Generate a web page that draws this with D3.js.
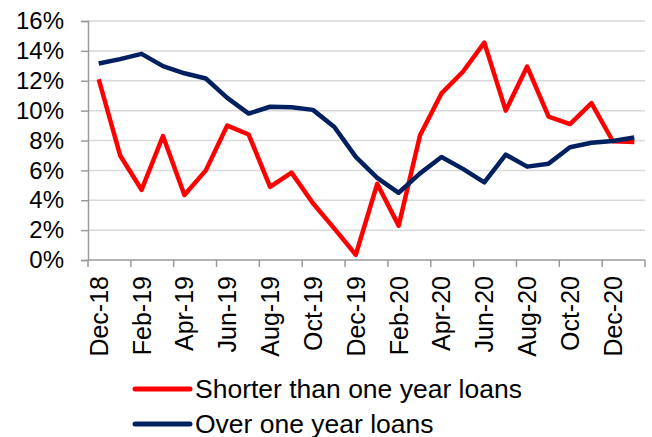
<!DOCTYPE html>
<html>
<head>
<meta charset="utf-8">
<script src="https://cdn.jsdelivr.net/npm/d3@7"></script>
<style>
  body { margin: 0; background: #fff; }
  text { font-family: Arial, "Liberation Sans", sans-serif; fill: #000; }
</style>
</head>
<body>
<svg id="chart"></svg>
<script>
const width = 652;
const height = 437;

// Months, Dec-18 to Jan-21
const months = ["Dec-18", "Jan-19", "Feb-19", "Mar-19", "Apr-19", "May-19", "Jun-19", "Jul-19",
    "Aug-19", "Sep-19", "Oct-19", "Nov-19", "Dec-19", "Jan-20", "Feb-20", "Mar-20", "Apr-20",
    "May-20", "Jun-20", "Jul-20", "Aug-20", "Sep-20", "Oct-20", "Nov-20", "Dec-20", "Jan-21"];

// Growth rates, in percent
const shortLoans = [12.1, 7.0, 4.7, 8.3, 4.35, 6.0, 9.0, 8.4, 4.9, 5.85, 3.8, 2.1, 0.35,
    5.1, 2.3, 8.35, 11.15, 12.6, 14.55, 10.0, 12.95, 9.6, 9.1, 10.5, 7.95, 7.9];
const longLoans = [13.15, 13.45, 13.8, 12.98, 12.5, 12.15, 10.85, 9.8, 10.26, 10.22, 10.05,
    8.9, 6.9, 5.5, 4.5, 5.8, 6.9, 6.1, 5.2, 7.05, 6.25, 6.45, 7.55, 7.85, 7.97, 8.2];

const yTicks = [0, 2, 4, 6, 8, 10, 12, 14, 16];
const seriesNames = ["Shorter than one year loans", "Over one year loans"];
const seriesColors = ["#ff0000", "#002060"];

const plot = {left: 88, right: 645, top: 21, bottom: 260};

const svg = d3.select("#chart")
    .attr("width", width)
    .attr("height", height);

const x = d3.scaleBand()
    .domain(months)
    .range([plot.left, plot.right]);

const y = d3.scaleLinear()
    .domain([0, 16])
    .range([plot.bottom, plot.top]);

const cx = (m) => x(m) + x.bandwidth() / 2;

// gridlines
svg.append("g")
    .selectAll("line")
    .data(yTicks.slice(1))
    .join("line")
    .attr("x1", plot.left)
    .attr("x2", plot.right)
    .attr("y1", d => y(d))
    .attr("y2", d => y(d))
    .style("stroke", "#d9d9d9")
    .style("stroke-width", 1.5);

// y axis
const yAxis = svg.append("g")
    .attr("transform", `translate(${plot.left},0)`)
    .call(d3.axisLeft(y).tickValues(yTicks).tickSize(7).tickPadding(17).tickFormat(d => d + "%"));
yAxis.select(".domain").style("stroke", "#9a9a9a").style("stroke-width", 1.5);
yAxis.selectAll(".tick line").style("stroke", "#9a9a9a").style("stroke-width", 1.5);
yAxis.selectAll(".tick text")
    .style("font-size", "24px")
    .style("font-family", "Arial, 'Liberation Sans', sans-serif")
    .attr("fill", "#000");

// x axis: tick marks every two months, on category borders
const borders = months.filter((m, i) => i % 2 === 0).map(m => x(m)).concat([plot.right]);
const xAxis = svg.append("g");
xAxis.append("line")
    .attr("x1", plot.left)
    .attr("x2", plot.right)
    .attr("y1", plot.bottom)
    .attr("y2", plot.bottom)
    .style("stroke", "#9a9a9a")
    .style("stroke-width", 1.5);
xAxis.selectAll("line.tick")
    .data(borders)
    .join("line")
    .attr("class", "tick")
    .attr("x1", d => d)
    .attr("x2", d => d)
    .attr("y1", plot.bottom)
    .attr("y2", plot.bottom + 7)
    .style("stroke", "#9a9a9a")
    .style("stroke-width", 1.5);

xAxis.selectAll("text")
    .data(months.filter((m, i) => i % 2 === 0))
    .join("text")
    .attr("transform", d => `translate(${cx(d) + 9},${plot.bottom + 16}) rotate(-90)`)
    .attr("text-anchor", "end")
    .style("font-size", "25px")
    .text(d => d);

// lines
const line = d3.line()
    .x((d, i) => cx(months[i]))
    .y(d => y(d));

[shortLoans, longLoans].forEach((values, k) => {
    svg.append("path")
        .datum(values)
        .attr("d", line)
        .style("fill", "none")
        .style("stroke", seriesColors[k])
        .style("stroke-width", 4.5)
        .style("stroke-linejoin", "round");
});

// legend (text a bit wider than the plain font, as in the original)
const legend = svg.append("g");
seriesNames.forEach((name, k) => {
    const ly = 389 + k * 35;
    legend.append("line")
        .attr("x1", 135)
        .attr("x2", 190)
        .attr("y1", ly)
        .attr("y2", ly)
        .style("stroke", seriesColors[k])
        .style("stroke-width", 5)
        .style("stroke-linecap", "round");
    legend.append("text")
        .attr("transform", `translate(195,${ly + 9}) scale(1.06,1)`)
        .style("font-size", "25px")
        .text(name);
});
</script>
</body>
</html>
